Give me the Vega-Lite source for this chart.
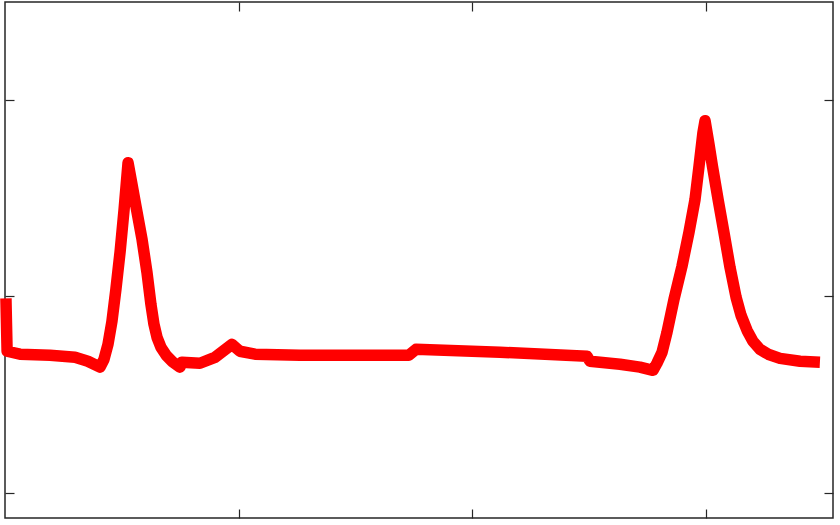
{
  "$schema": "https://vega.github.io/schema/vega-lite/v6.json",
  "width": 828,
  "height": 516,
  "padding": {"left": 5, "top": 2, "right": 7, "bottom": 7},
  "autosize": {"type": "none"},
  "background": "white",
  "config": {
    "view": {"stroke": "#262626", "strokeWidth": 1.5},
    "axis": {"domain": false, "grid": false, "labels": false, "title": null, "tickSize": -9, "tickColor": "#262626", "tickWidth": 1.2}
  },
  "data": {"values": [
    {"t": 0.004, "v": -0.01},
    {"t": 0.009, "v": -0.279},
    {"t": 0.064, "v": -0.294},
    {"t": 0.193, "v": -0.299},
    {"t": 0.300, "v": -0.310},
    {"t": 0.355, "v": -0.330},
    {"t": 0.407, "v": -0.360},
    {"t": 0.424, "v": -0.320},
    {"t": 0.441, "v": -0.244},
    {"t": 0.458, "v": -0.127},
    {"t": 0.475, "v": 0.036},
    {"t": 0.493, "v": 0.228},
    {"t": 0.510, "v": 0.442},
    {"t": 0.527, "v": 0.680},
    {"t": 0.544, "v": 0.569},
    {"t": 0.561, "v": 0.457},
    {"t": 0.587, "v": 0.289},
    {"t": 0.608, "v": 0.122},
    {"t": 0.625, "v": -0.041},
    {"t": 0.638, "v": -0.142},
    {"t": 0.651, "v": -0.208},
    {"t": 0.668, "v": -0.259},
    {"t": 0.690, "v": -0.299},
    {"t": 0.715, "v": -0.330},
    {"t": 0.749, "v": -0.360},
    {"t": 0.758, "v": -0.335},
    {"t": 0.835, "v": -0.340},
    {"t": 0.899, "v": -0.310},
    {"t": 0.972, "v": -0.244},
    {"t": 1.006, "v": -0.279},
    {"t": 1.071, "v": -0.294},
    {"t": 1.263, "v": -0.299},
    {"t": 1.730, "v": -0.299},
    {"t": 1.760, "v": -0.269},
    {"t": 2.120, "v": -0.284},
    {"t": 2.493, "v": -0.305},
    {"t": 2.505, "v": -0.330},
    {"t": 2.634, "v": -0.345},
    {"t": 2.719, "v": -0.360},
    {"t": 2.775, "v": -0.376},
    {"t": 2.792, "v": -0.340},
    {"t": 2.814, "v": -0.284},
    {"t": 2.835, "v": -0.183},
    {"t": 2.865, "v": -0.015},
    {"t": 2.899, "v": 0.152},
    {"t": 2.929, "v": 0.325},
    {"t": 2.955, "v": 0.492},
    {"t": 2.972, "v": 0.660},
    {"t": 2.989, "v": 0.832},
    {"t": 2.998, "v": 0.893},
    {"t": 3.015, "v": 0.772},
    {"t": 3.030, "v": 0.660},
    {"t": 3.054, "v": 0.492},
    {"t": 3.079, "v": 0.325},
    {"t": 3.105, "v": 0.147},
    {"t": 3.131, "v": -0.005},
    {"t": 3.152, "v": -0.096},
    {"t": 3.178, "v": -0.173},
    {"t": 3.203, "v": -0.228},
    {"t": 3.233, "v": -0.269},
    {"t": 3.268, "v": -0.294},
    {"t": 3.319, "v": -0.315},
    {"t": 3.405, "v": -0.330},
    {"t": 3.490, "v": -0.335}
  ]},
  "layer": [
    {
      "mark": {"type": "line", "color": "#ff0000", "strokeWidth": 11.5, "strokeJoin": "round", "strokeCap": "butt"},
      "encoding": {
        "x": {"field": "t", "type": "quantitative", "scale": {"domain": [0, 3.546], "nice": false, "zero": false}, "axis": {"orient": "bottom", "values": [1, 2, 3]}},
        "y": {"field": "v", "type": "quantitative", "scale": {"domain": [-1.127, 1.497], "nice": false, "zero": false}, "axis": {"orient": "left", "values": [-1, 0, 1]}}
      }
    },
    {
      "mark": {"type": "line", "opacity": 0},
      "encoding": {
        "x": {"field": "t", "type": "quantitative", "axis": {"orient": "top", "values": [1, 2, 3]}},
        "y": {"field": "v", "type": "quantitative", "axis": {"orient": "right", "values": [-1, 0, 1]}}
      }
    }
  ],
  "resolve": {"axis": {"x": "independent", "y": "independent"}}
}
